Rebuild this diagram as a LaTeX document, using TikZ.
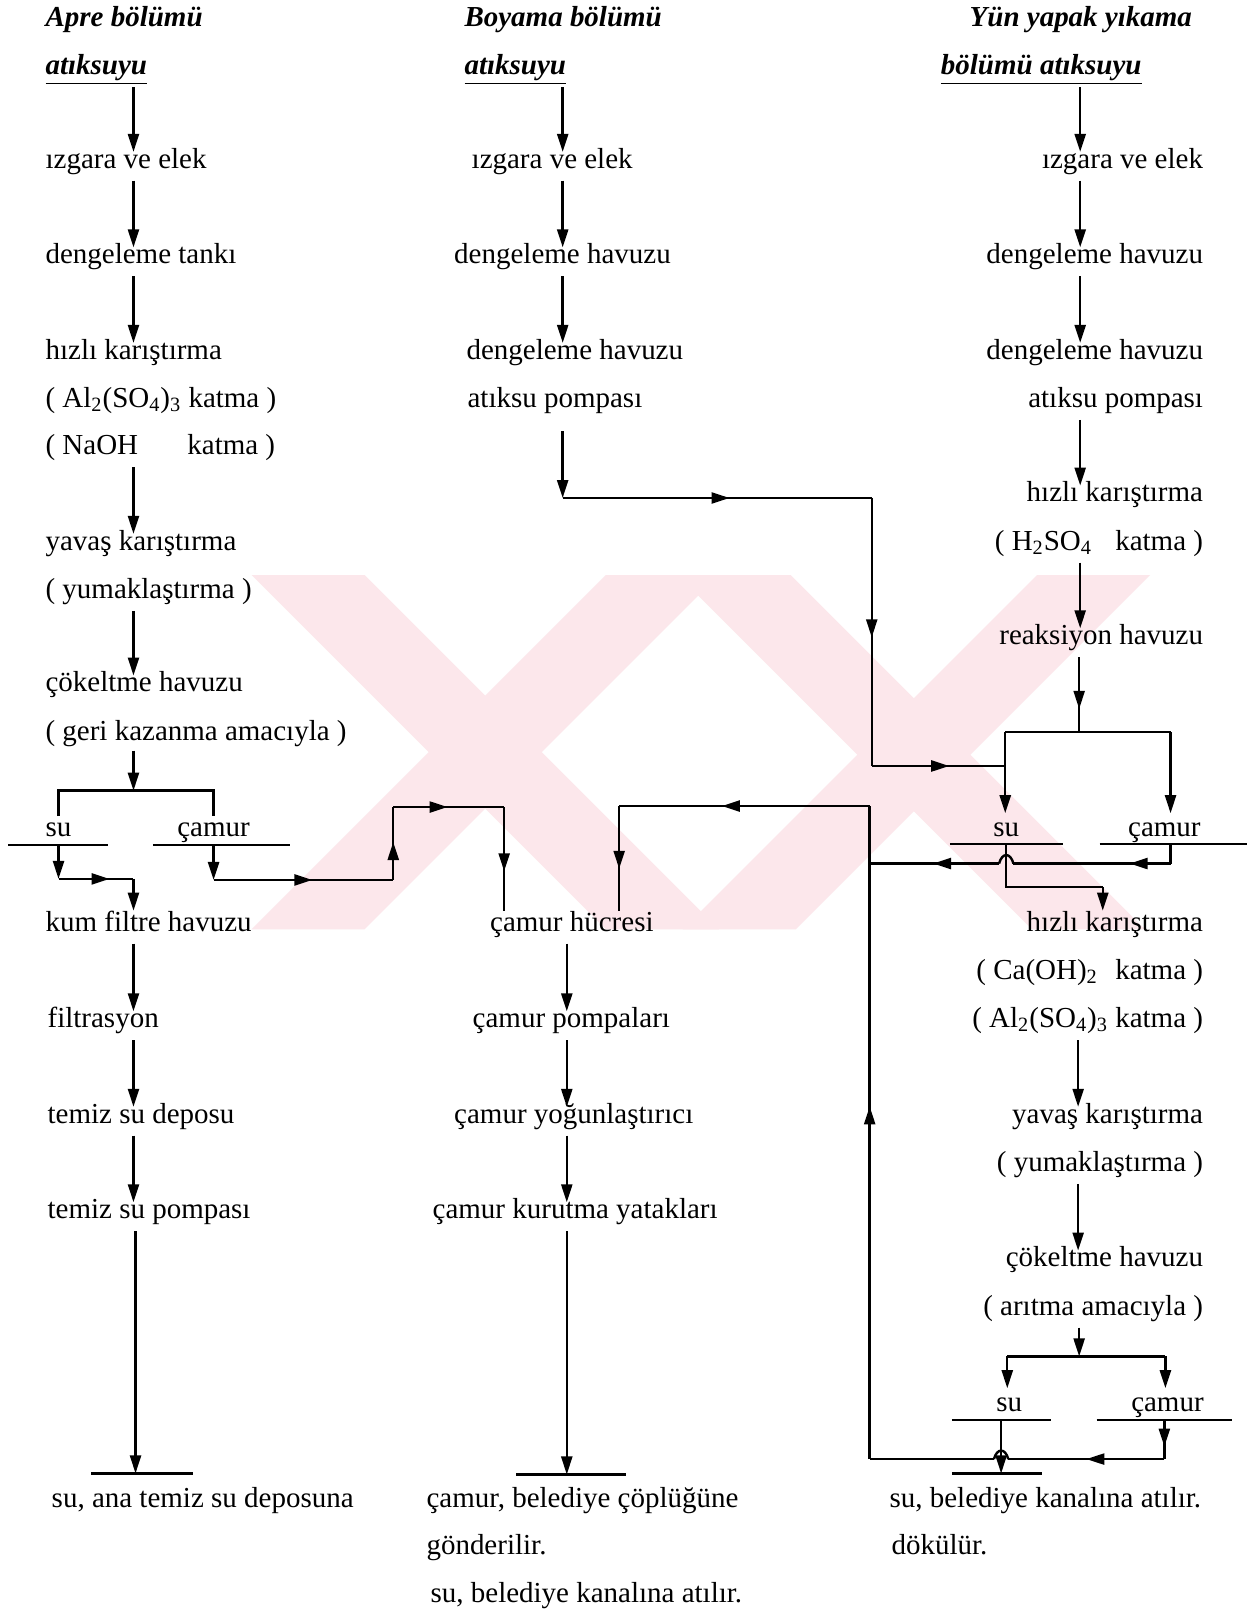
\documentclass[tikz,border=0pt]{standalone}
\usepackage{fontspec}
\setmainfont{Liberation Serif}
\usetikzlibrary{arrows.meta,calc,decorations.markings}
\definecolor{wmpink}{RGB}{252,231,235}
\tikzset{
  txt/.style={inner sep=0pt, text height=10pt, text depth=3pt, yshift=-1pt, font=\fontsize{14.5}{17}\selectfont},
  lt/.style={txt, anchor=west},
  rt/.style={txt, anchor=east},
  ct/.style={txt, anchor=center},
  head/.style={lt, font=\fontsize{14.5}{17}\selectfont\bfseries\itshape},
  ln/.style={line width=1.2pt},
  arr/.style={ln, -{Triangle[length=9pt,width=5.5pt]}},
  marr/.style={ln, postaction={decorate}, decoration={markings, mark=at position #1 with {\arrow{Triangle[length=9pt,width=5.5pt]}}}},
  wm/.style={fill=wmpink, draw=none},
}
\newcommand\flowarrow[3]{\draw[arr] ($(#1.south -| #3)+(0,6)$) -- ($(#2.north -| #3)+(0,4)$);}
\begin{document}
\begin{tikzpicture}[x=0.5136pt,y=-0.5136pt]
\useasboundingbox (0,0) rectangle (1216,1568);
\fill[white] (0,0) rectangle (1216,1568);
% faint watermark
\begin{scope}
\clip (240,560) rectangle (1150,905);
\fill[wm] (245,560) -- (355,560) -- (700,905) -- (590,905) -- cycle;
\fill[wm] (590,560) -- (700,560) -- (355,905) -- (245,905) -- cycle;
\fill[wm] (660,560) -- (770,560) -- (1115,905) -- (1005,905) -- cycle;
\fill[wm] (1010,560) -- (1120,560) -- (775,905) -- (665,905) -- cycle;
\end{scope}
\coordinate (cA) at (130,0);
\coordinate (cB) at (548,0);
\coordinate (cM) at (552,0);
\coordinate (cC) at (1052,0);
\coordinate (cD) at (1050,0);
% ---------- left column ----------
\node[head] (hA1) at (44,17) {Apre bölümü};
\node[head] (hA2) at (44,64) {\underline{atıksuyu}};
\node[lt] (A1) at (44,155) {ızgara ve elek};
\node[lt] (A2) at (44,248) {dengeleme tankı};
\node[lt] (A3) at (44,341) {hızlı karıştırma};
\node[lt] (A3b) at (44,388) {( Al\textsubscript{2}(SO\textsubscript{4})\textsubscript{3} katma )};
\node[lt] (A3c) at (44,434) {( NaOH\hspace{1.7em}katma )};
\node[lt] (A4) at (44,527) {yavaş karıştırma};
\node[lt] (A4b) at (44,574) {( yumaklaştırma )};
\node[lt] (A5) at (44,665) {çökeltme havuzu};
\node[lt] (A5b) at (44,712) {( geri kazanma amacıyla )};
\node[ct] (Asu) at (57,806) {su};
\node[ct] (Acam) at (208,806) {çamur};
\node[lt] (A6) at (44,898) {kum filtre havuzu};
\node[lt] (A7) at (46,992) {filtrasyon};
\node[lt] (A8) at (46,1085) {temiz su deposu};
\node[lt] (A9) at (46,1178) {temiz su pompası};
\node[lt] (A10) at (50,1459) {su, ana temiz su deposuna};
\flowarrow{hA2}{A1}{cA}
\flowarrow{A1}{A2}{cA}
\flowarrow{A2}{A3}{cA}
\flowarrow{A3c}{A4}{cA}
\flowarrow{A4b}{A5}{cA}
\flowarrow{A6}{A7}{cA}
\flowarrow{A7}{A8}{cA}
\flowarrow{A8}{A9}{cA}
\coordinate (Abar) at (130,770);
\draw[arr] ($(A5b.south -| cA)+(0,4)$) -- (Abar);
\draw[ln] (Asu.north) |- (Abar) -| (Acam.north);
\draw[ln] (8,823) -- (105,823);
\draw[ln] (149,823) -- (282,823);
\coordinate (Asu1) at (57,823);
\coordinate (Asu2) at (57,856);
\coordinate (Asu3) at (130,856);
\draw[arr] (Asu1) -- (Asu2);
\draw[marr=0.68] (Asu2) -- (Asu3);
\draw[arr] (Asu3) -- (A6.north -| Asu3);
\coordinate (Ac1) at (208,823);
\coordinate (Ac2) at (208,857);
\coordinate (Ac3) at (383,857);
\coordinate (Ac4) at (383,786);
\coordinate (Ac5) at (491,786);
\draw[arr] (Ac1) -- (Ac2);
\draw[marr=0.55] (Ac2) -- (Ac3);
\draw[marr=0.52] (Ac3) -- (Ac4);
\draw[marr=0.49] (Ac4) -- (Ac5);
\coordinate (Abot) at (132,1435);
\draw[arr] ($(A9.south -| Abot)+(0,6)$) -- (Abot);
\draw[ln] (89,1435) -- (188,1435);
% ---------- middle column ----------
\node[head] (hB1) at (452,17) {Boyama bölümü};
\node[head] (hB2) at (452,64) {\underline{atıksuyu}};
\node[lt] (B1) at (459,155) {ızgara ve elek};
\node[lt] (B2) at (442,248) {dengeleme havuzu};
\node[lt] (B3) at (454,341) {dengeleme havuzu};
\node[lt] (B3b) at (455,388) {atıksu pompası};
\node[lt] (M1) at (477,898) {çamur hücresi};
\node[lt] (M2) at (460,992) {çamur pompaları};
\node[lt] (M3) at (442,1085) {çamur yoğunlaştırıcı};
\node[lt] (M4) at (421,1178) {çamur kurutma yatakları};
\node[lt] (M5) at (415,1459) {çamur, belediye çöplüğüne};
\node[lt] (M6) at (415,1505) {gönderilir.};
\node[lt] (M7) at (419,1552) {su, belediye kanalına atılır.};
\flowarrow{hB2}{B1}{cB}
\flowarrow{B1}{B2}{cB}
\flowarrow{B2}{B3}{cB}
\flowarrow{M1}{M2}{cM}
\flowarrow{M2}{M3}{cM}
\flowarrow{M3}{M4}{cM}
\draw[marr=0.62] (Ac5) -- (M1.north -| Ac5);
\coordinate (Bc1) at (548,485);
\coordinate (Bc2) at (849,485);
\coordinate (Bc3) at (849,746);
\coordinate (Bc4) at (979,746);
\draw[arr] ($(B3b.south -| cB)+(0,17)$) -- (Bc1);
\draw[marr=0.54] (Bc1) -- (Bc2);
\draw[marr=0.52] (Bc2) -- (Bc3);
\draw[marr=0.58] (Bc3) -- (Bc4);
\coordinate (Mbot) at (552,1436);
\draw[arr] ($(M4.south -| Mbot)+(0,6)$) -- (Mbot);
\draw[ln] (503,1436) -- (610,1436);
% ---------- right column ----------
\node[head] (hC1) at (944,17) {Yün yapak yıkama};
\node[head] (hC2) at (916,64) {\underline{bölümü atıksuyu}};
\node[rt] (C1) at (1172,155) {ızgara ve elek};
\node[rt] (C2) at (1172,248) {dengeleme havuzu};
\node[rt] (C3) at (1172,341) {dengeleme havuzu};
\node[rt] (C3b) at (1172,388) {atıksu pompası};
\node[rt] (C4) at (1172,480) {hızlı karıştırma};
\node[rt] (C4b) at (1172,527) {( H\textsubscript{2}SO\textsubscript{4}\hspace{0.8em}katma )};
\node[rt] (C5) at (1172,619) {reaksiyon havuzu};
\node[ct] (Csu) at (980,806) {su};
\node[ct] (Ccam) at (1134,806) {çamur};
\node[rt] (C6) at (1172,898) {hızlı karıştırma};
\node[rt] (C6b) at (1172,945) {( Ca(OH)\textsubscript{2}\hspace{0.6em}katma )};
\node[rt] (C6c) at (1172,992) {( Al\textsubscript{2}(SO\textsubscript{4})\textsubscript{3} katma )};
\node[rt] (C7) at (1172,1085) {yavaş karıştırma};
\node[rt] (C7b) at (1172,1132) {( yumaklaştırma )};
\node[rt] (C8) at (1172,1225) {çökeltme havuzu};
\node[rt] (C8b) at (1172,1272) {( arıtma amacıyla )};
\node[ct] (Dsu) at (983,1366) {su};
\node[ct] (Dcam) at (1137,1366) {çamur};
\node[lt] (C9) at (866,1459) {su, belediye kanalına atılır.};
\node[lt] (C10) at (868,1505) {dökülür.};
\flowarrow{hC2}{C1}{cC}
\flowarrow{C1}{C2}{cC}
\flowarrow{C2}{C3}{cC}
\flowarrow{C3b}{C4}{cC}
\flowarrow{C4b}{C5}{cC}
\flowarrow{C6c}{C7}{cD}
\flowarrow{C7b}{C8}{cD}
% upper split
\coordinate (Cbar) at (1051,713);
\draw[marr=0.69] ($(C5.south -| Cbar)+(0,6)$) -- (Cbar);
\draw[ln] (979,713) -- (1140,713);
\draw[arr] (979,713) -- (979,792);
\draw[arr] (1140,713) -- (1140,792);
\draw[ln] (925,822) -- (1035,822);
\draw[ln] (1071,822) -- (1214,822);
% water branch to rapid mixing
\coordinate (Cs1) at (980,822);
\coordinate (Cs2) at (980,864);
\coordinate (Cs3) at (1074,864);
\draw[ln] (Cs1) -- (Cs2) -- (Cs3);
\draw[arr] (Cs3) -- (C6.north -| Cs3);
% sludge branch with jump
\coordinate (Cc1) at (1140,822);
\coordinate (Cc2) at (1140,841);
\coordinate (Cc3) at (987,841);
\coordinate (Cc4) at (973,841);
\coordinate (Cc5) at (847,841);
\draw[ln] (Cc1) -- (Cc2);
\draw[marr=0.26] (Cc2) -- (Cc3);
\draw[ln] (Cc3) .. controls (984,830) and (976,830) .. (Cc4);
\draw[marr=0.51] (Cc4) -- (Cc5);
% big return line
\coordinate (R1) at (847,1421);
\coordinate (R2) at (847,785);
\coordinate (R3) at (603,785);
\draw[marr=0.54] (R1) -- (R2);
\draw[marr=0.59] (R2) -- (R3);
\draw[marr=0.6] (R3) -- (M1.north -| R3);
% lower split
\coordinate (Dbar) at (1051,1321);
\draw[arr] ($(C8b.south -| Dbar)+(0,6)$) -- (Dbar);
\draw[ln] (981,1321) -- (1135,1321);
\draw[arr] (981,1321) -- (981,1352);
\draw[arr] (1135,1321) -- (1135,1352);
\draw[ln] (927,1383) -- (1024,1383);
\draw[ln] (1068,1383) -- (1200,1383);
\coordinate (Dc1) at (1134,1383);
\coordinate (Dc2) at (1134,1421);
\coordinate (Dc3) at (982,1421);
\coordinate (Dc4) at (968,1421);
\draw[marr=0.68] (Dc1) -- (Dc2);
\draw[marr=0.5] (Dc2) -- (Dc3);
\draw[ln] (Dc3) .. controls (979,1410) and (971,1410) .. (Dc4);
\draw[ln] (Dc4) -- (R1);
\coordinate (Ds1) at (975,1383);
\coordinate (Ds2) at (975,1435);
\draw[arr] (Ds1) -- (Ds2);
\draw[ln] (927,1435) -- (1015,1435);
\end{tikzpicture}
\end{document}
